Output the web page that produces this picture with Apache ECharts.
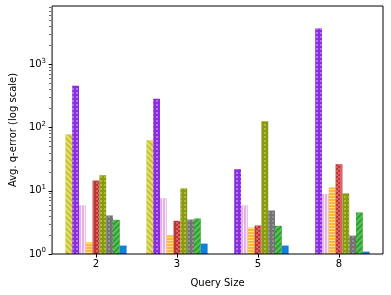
<!DOCTYPE html>
<html>
<head>
<meta charset="utf-8">
<script src="https://cdn.jsdelivr.net/npm/echarts@6/dist/echarts.min.js"></script>
<style>html,body{margin:0;padding:0;background:#fff}#c{width:391px;height:295px}</style>
</head>
<body>
<div id="c"></div>
<script>
// ---- data ----
const categories = ['2', '3', '5', '8'];
const seriesNames = ['Method A', 'Method B', 'Method C', 'Method D', 'Method E', 'Method F', 'Method G', 'Method H', 'Method I'];
const valsA = [78, 63, null, null];
const valsB = [458, 285, 22, 3700];
const valsC = [5.9, 7.6, 5.9, 8.9];
const valsD = [1.53, 1.98, 2.62, 11.3];
const valsE = [14.5, 3.35, 2.82, 26.3];
const valsF = [17.6, 10.9, 126, 9.1];
const valsG = [4.07, 3.51, 4.88, 1.95];
const valsH = [3.47, 3.64, 2.79, 4.54];
const valsI = [1.36, 1.46, 1.36, 1.09];
const majorTicks = [1, 10, 100, 1000];
const yMin = 1, yMax = 8400;

// minor ticks of the log axis (2..9 x each decade)
const minorTicks = [];
for (let d = 1; d <= 1000; d *= 10) for (let k = 2; k <= 9; k++) { if (k * d <= yMax) minorTicks.push(k * d); }

const FONT = 'DejaVu Sans';
const styles = [
  { color: '#c6c22e', decal: { symbol: 'rect', symbolSize: 1, dashArrayX: [1, 0], dashArrayY: [2, 2], rotation: Math.PI / 4, color: 'rgba(255,255,190,0.5)' } },
  { color: '#8b2be2', decal: { symbol: 'rect', symbolSize: 1, dashArrayX: [2, 2], dashArrayY: [2, 2], color: 'rgba(200,150,255,0.7)' } },
  { color: '#e6b3e6', decal: { symbol: 'rect', symbolSize: 1, dashArrayX: [1, 2], dashArrayY: [1, 0], color: 'rgba(255,255,255,0.7)' } },
  { color: '#ffb833', decal: { symbol: 'rect', symbolSize: 1, dashArrayX: [1, 0], dashArrayY: [1, 2], color: 'rgba(255,235,160,0.8)' } },
  { color: '#bb3535', decal: { symbol: 'rect', symbolSize: 1, dashArrayX: [[2, 2], [0, 2, 2]], dashArrayY: [2, 0], color: 'rgba(240,130,130,0.6)' } },
  { color: '#879a12', decal: { symbol: 'rect', symbolSize: 1, dashArrayX: [2, 2], dashArrayY: [2, 2], color: 'rgba(200,210,90,0.6)' } },
  { color: '#737373', decal: { symbol: 'rect', symbolSize: 1, dashArrayX: [2, 2], dashArrayY: [2, 2], color: 'rgba(165,165,165,0.6)' } },
  { color: '#2ba02b', decal: { symbol: 'rect', symbolSize: 1, dashArrayX: [1, 0], dashArrayY: [2, 2], rotation: -Math.PI / 4, color: 'rgba(130,220,130,0.55)' } },
  { color: '#0f80e0', decal: null }
];
const allVals = [valsA, valsB, valsC, valsD, valsE, valsF, valsG, valsH, valsI];

const series = allVals.map((v, i) => {
  const it = { color: styles[i].color };
  if (styles[i].decal) it.decal = styles[i].decal;
  return {
    name: seriesNames[i], type: 'bar', xAxisIndex: 1, yAxisIndex: 1,
    data: v, barWidth: 6.8, barGap: '0%', itemStyle: it, silent: true
  };
});

const chart = echarts.init(document.getElementById('c'), null, { renderer: 'canvas' });
chart.setOption({
  animation: false,
  backgroundColor: '#fff',
  textStyle: { fontFamily: FONT },
  grid: [
    { left: 51, top: 6, width: 332, height: 248, show: true, borderColor: '#000', borderWidth: 1, backgroundColor: 'transparent', z: 10 },
    { left: 55.5, top: 6, width: 324, height: 248 }
  ],
  xAxis: [
    { gridIndex: 0, type: 'value', min: 0, max: 1, show: false },
    {
      gridIndex: 1, type: 'category', data: categories,
      axisLine: { show: false },
      axisTick: { show: true, alignWithLabel: true, length: 3.5, lineStyle: { color: '#000' } },
      axisLabel: { color: '#000', fontSize: 10, fontFamily: FONT, margin: 5 },
      name: 'Query Size', nameLocation: 'middle', nameGap: 24,
      nameTextStyle: { color: '#000', fontSize: 10, fontFamily: FONT }
    }
  ],
  yAxis: [
    {
      gridIndex: 0, type: 'log', logBase: 10, min: yMin, max: yMax,
      axisLine: { show: false },
      splitLine: { show: false },
      axisTick: { show: true, length: 3.5, customValues: majorTicks, lineStyle: { color: '#000' } },
      axisLabel: {
        customValues: majorTicks, color: '#000', margin: 6,
        formatter: function (v) { return '{b|10}{e|' + Math.round(Math.log10(v)) + '}'; },
        rich: {
          b: { fontSize: 10, fontFamily: FONT, color: '#000' },
          e: { fontSize: 7, fontFamily: FONT, color: '#000', padding: [0, 0, 7, 0] }
        }
      },
      name: 'Avg. q-error (log scale)', nameLocation: 'middle', nameGap: 34,
      nameTextStyle: { color: '#000', fontSize: 10, fontFamily: FONT }
    },
    {
      gridIndex: 1, type: 'log', logBase: 10, min: yMin, max: yMax, offset: 4.5,
      axisLine: { show: false },
      splitLine: { show: false },
      axisLabel: { show: false },
      axisTick: { show: true, length: 2, customValues: minorTicks, lineStyle: { color: '#000', width: 0.6 } }
    }
  ],
  series: series
});
</script>
</body>
</html>
